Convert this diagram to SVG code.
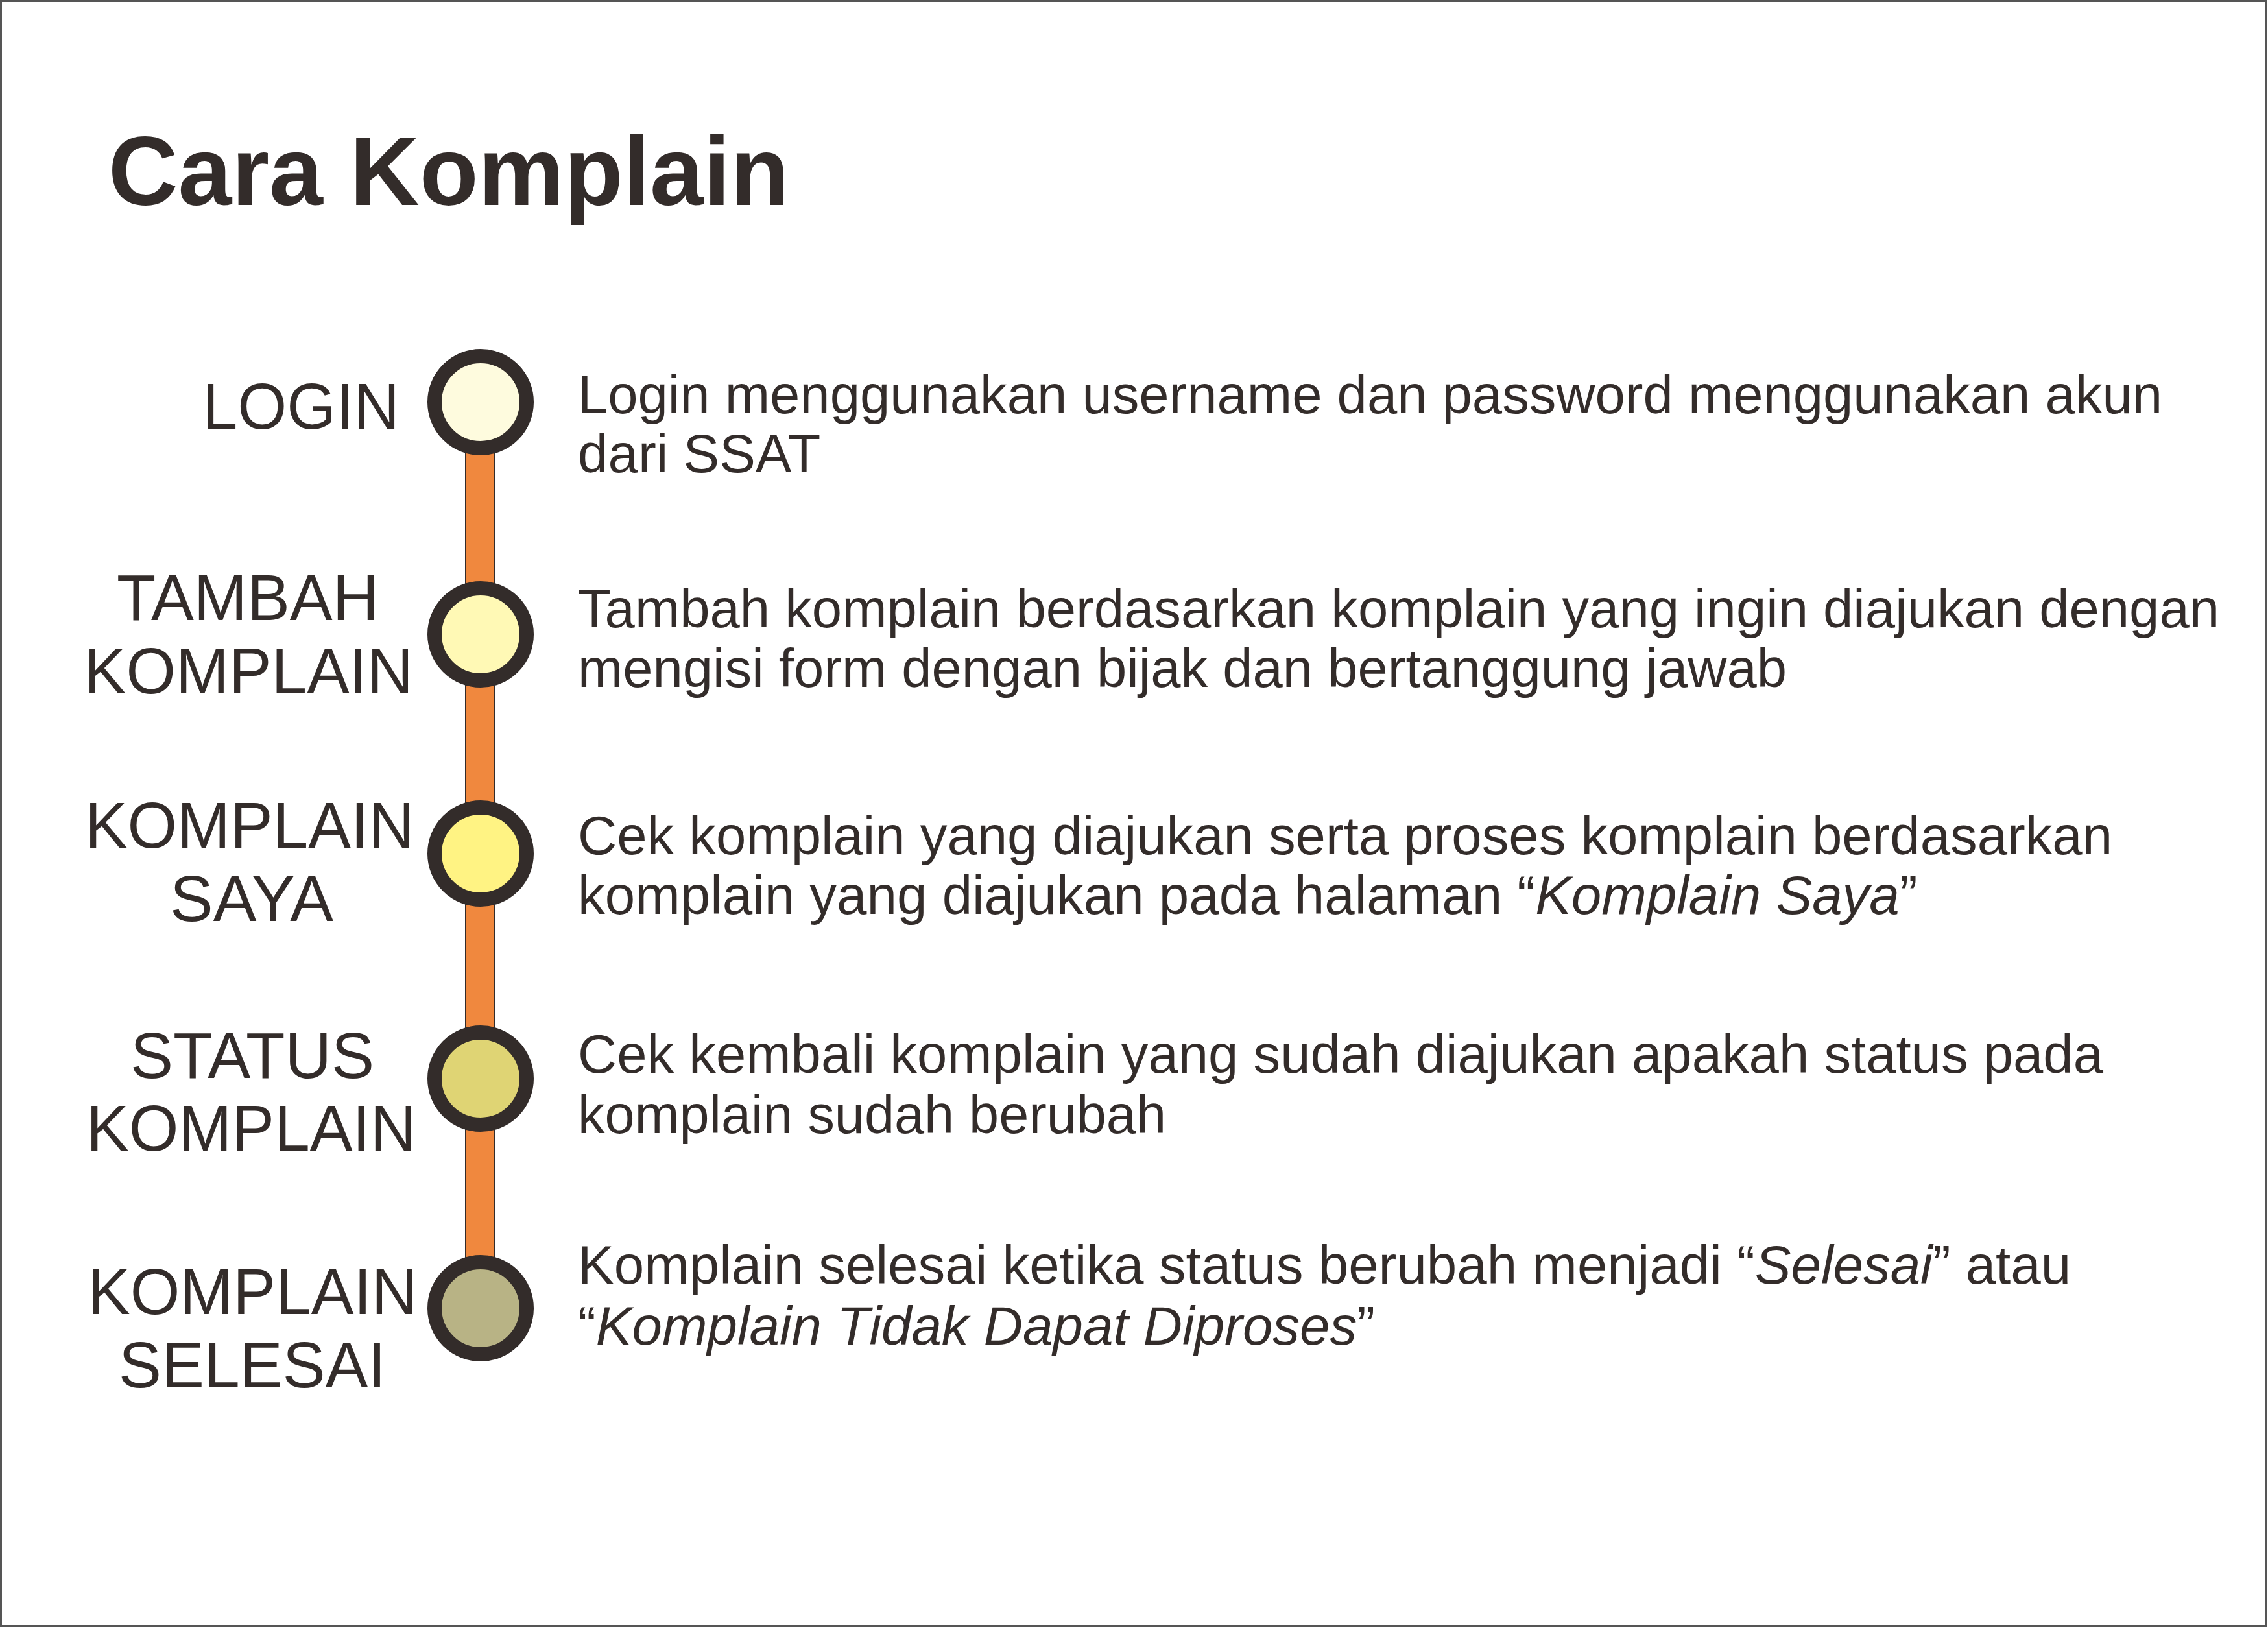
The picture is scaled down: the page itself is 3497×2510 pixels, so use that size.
<svg xmlns="http://www.w3.org/2000/svg" width="3497" height="2510" viewBox="0 0 3497 2510">
<style>
text{font-family:"Liberation Sans",Arial,Helvetica,sans-serif;fill:#332C2A}
.title{font-size:150px;font-weight:bold}
.label{font-size:100px}
.desc{font-size:83.5px}
.it{font-style:italic}
.node circle{stroke:#332C2A;stroke-width:22}
</style>
<rect x="1.5" y="1.5" width="3492" height="2505" fill="#FFFFFF" stroke="#555555" stroke-width="3"/>
<text class="title" x="167" y="316" textLength="1050" lengthAdjust="spacingAndGlyphs">Cara Komplain</text>
<g id="connectors">
<rect x="718" y="620" width="44" height="1397" fill="#F0883E" stroke="#332C2A" stroke-width="2"/>
</g>
<g id="node-login" class="node">
<circle cx="741" cy="620" r="71" fill="#FEFBDE"/>
<text class="label" x="312" y="661" textLength="304" lengthAdjust="spacingAndGlyphs">LOGIN</text>
<text class="desc" x="891" y="637" textLength="2443" lengthAdjust="spacingAndGlyphs">Login menggunakan username dan password menggunakan akun</text>
<text class="desc" x="891" y="728">dari SSAT</text>
</g>
<g id="node-tambah" class="node">
<circle cx="741" cy="978" r="71" fill="#FFF9B5"/>
<text class="label" x="180" y="956" textLength="404" lengthAdjust="spacingAndGlyphs">TAMBAH</text>
<text class="label" x="129" y="1069" textLength="508" lengthAdjust="spacingAndGlyphs">KOMPLAIN</text>
<text class="desc" x="891" y="967" textLength="2531" lengthAdjust="spacingAndGlyphs">Tambah komplain berdasarkan komplain yang ingin diajukan dengan</text>
<text class="desc" x="891" y="1059" textLength="1864" lengthAdjust="spacingAndGlyphs">mengisi form dengan bijak dan bertanggung jawab</text>
</g>
<g id="node-saya" class="node">
<circle cx="741" cy="1316" r="71" fill="#FFF383"/>
<text class="label" x="131" y="1307" textLength="508" lengthAdjust="spacingAndGlyphs">KOMPLAIN</text>
<text class="label" x="262" y="1420" textLength="252" lengthAdjust="spacingAndGlyphs">SAYA</text>
<text class="desc" x="891" y="1317" textLength="2366" lengthAdjust="spacingAndGlyphs">Cek komplain yang diajukan serta proses komplain berdasarkan</text>
<text class="desc" x="891" y="1409">komplain yang diajukan pada halaman “<tspan class="it">Komplain Saya</tspan>”</text>
</g>
<g id="node-status" class="node">
<circle cx="741" cy="1663" r="71" fill="#DFD474"/>
<text class="label" x="201" y="1662" textLength="376" lengthAdjust="spacingAndGlyphs">STATUS</text>
<text class="label" x="133" y="1774" textLength="509" lengthAdjust="spacingAndGlyphs">KOMPLAIN</text>
<text class="desc" x="891" y="1654" textLength="2352" lengthAdjust="spacingAndGlyphs">Cek kembali komplain yang sudah diajukan apakah status pada</text>
<text class="desc" x="891" y="1747" textLength="907" lengthAdjust="spacingAndGlyphs">komplain sudah berubah</text>
</g>
<g id="node-selesai" class="node">
<circle cx="741" cy="2017" r="71" fill="#B8B385"/>
<text class="label" x="135" y="2026" textLength="509" lengthAdjust="spacingAndGlyphs">KOMPLAIN</text>
<text class="label" x="183" y="2139" textLength="412" lengthAdjust="spacingAndGlyphs">SELESAI</text>
<text class="desc" x="891" y="1979">Komplain selesai ketika status berubah menjadi “<tspan class="it">Selesai</tspan>” atau</text>
<text class="desc" x="891" y="2073">“<tspan class="it">Komplain Tidak Dapat Diproses</tspan>”</text>
</g>
</svg>
